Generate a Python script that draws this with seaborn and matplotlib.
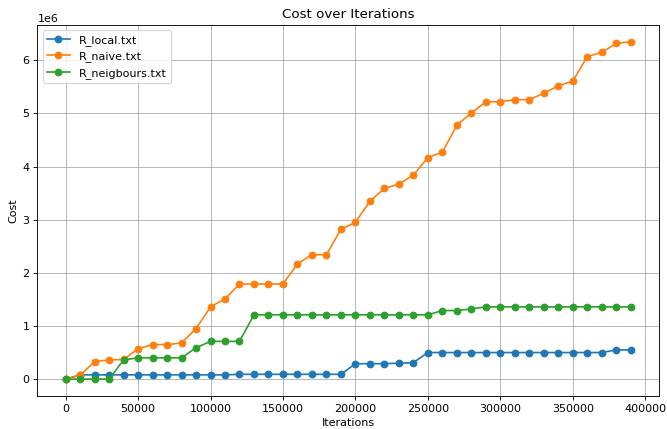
import numpy as np
import pandas as pd
import matplotlib
matplotlib.use("Agg")
import matplotlib.pyplot as plt
import seaborn as sns

# iterations sampled every 10000
iterations = list(range(0, 400000, 10000))

# cost values (units of 1e6)
r_local = [0.0, 0.08, 0.08, 0.08, 0.08, 0.08, 0.08, 0.08, 0.08, 0.08,
           0.08, 0.08, 0.09, 0.09, 0.09, 0.09, 0.09, 0.09, 0.09, 0.09,
           0.29, 0.29, 0.29, 0.30, 0.31, 0.50, 0.50, 0.50, 0.50, 0.50,
           0.50, 0.50, 0.50, 0.50, 0.50, 0.50, 0.50, 0.50, 0.55, 0.55]
r_naive = [0.0, 0.07, 0.33, 0.36, 0.37, 0.57, 0.65, 0.65, 0.68, 0.95,
           1.36, 1.51, 1.79, 1.79, 1.79, 1.79, 2.17, 2.34, 2.34, 2.82,
           2.95, 3.35, 3.59, 3.67, 3.84, 4.17, 4.27, 4.78, 5.01, 5.22,
           5.22, 5.26, 5.26, 5.38, 5.52, 5.61, 6.07, 6.15, 6.32, 6.35]
r_neigbours = [0.0, 0.0, 0.0, 0.0, 0.36, 0.40, 0.40, 0.40, 0.40, 0.59,
               0.71, 0.71, 0.71, 1.21, 1.21, 1.21, 1.21, 1.21, 1.21, 1.21,
               1.21, 1.21, 1.21, 1.21, 1.21, 1.21, 1.29, 1.29, 1.32, 1.36,
               1.36, 1.36, 1.36, 1.36, 1.36, 1.36, 1.36, 1.36, 1.36, 1.36]

series = {
    'R_local.txt': r_local,
    'R_naive.txt': r_naive,
    'R_neigbours.txt': r_neigbours,
}
colors = ['#1f77b4', '#ff7f0e', '#2ca02c']

# smaller dpi -> text scaled like the reference
fig, ax = plt.subplots(figsize=(667 / 80, 429 / 80), dpi=80)

for (name, vals), c in zip(series.items(), colors):
    df = pd.DataFrame({'Iterations': iterations, 'Cost': np.array(vals) * 1e6})
    sns.lineplot(data=df, x='Iterations', y='Cost', marker='o', color=c,
                 markersize=6, markeredgecolor=c, markeredgewidth=1,
                 label=name, ax=ax)

ax.set_title('Cost over Iterations')
ax.set_xlabel('Iterations')
ax.set_ylabel('Cost')
ax.grid(True)
ax.legend(loc='upper left')

# axes box placed like the reference
fig.subplots_adjust(left=0.056, right=0.988, bottom=0.077, top=0.942)
plt.savefig('out.png')
